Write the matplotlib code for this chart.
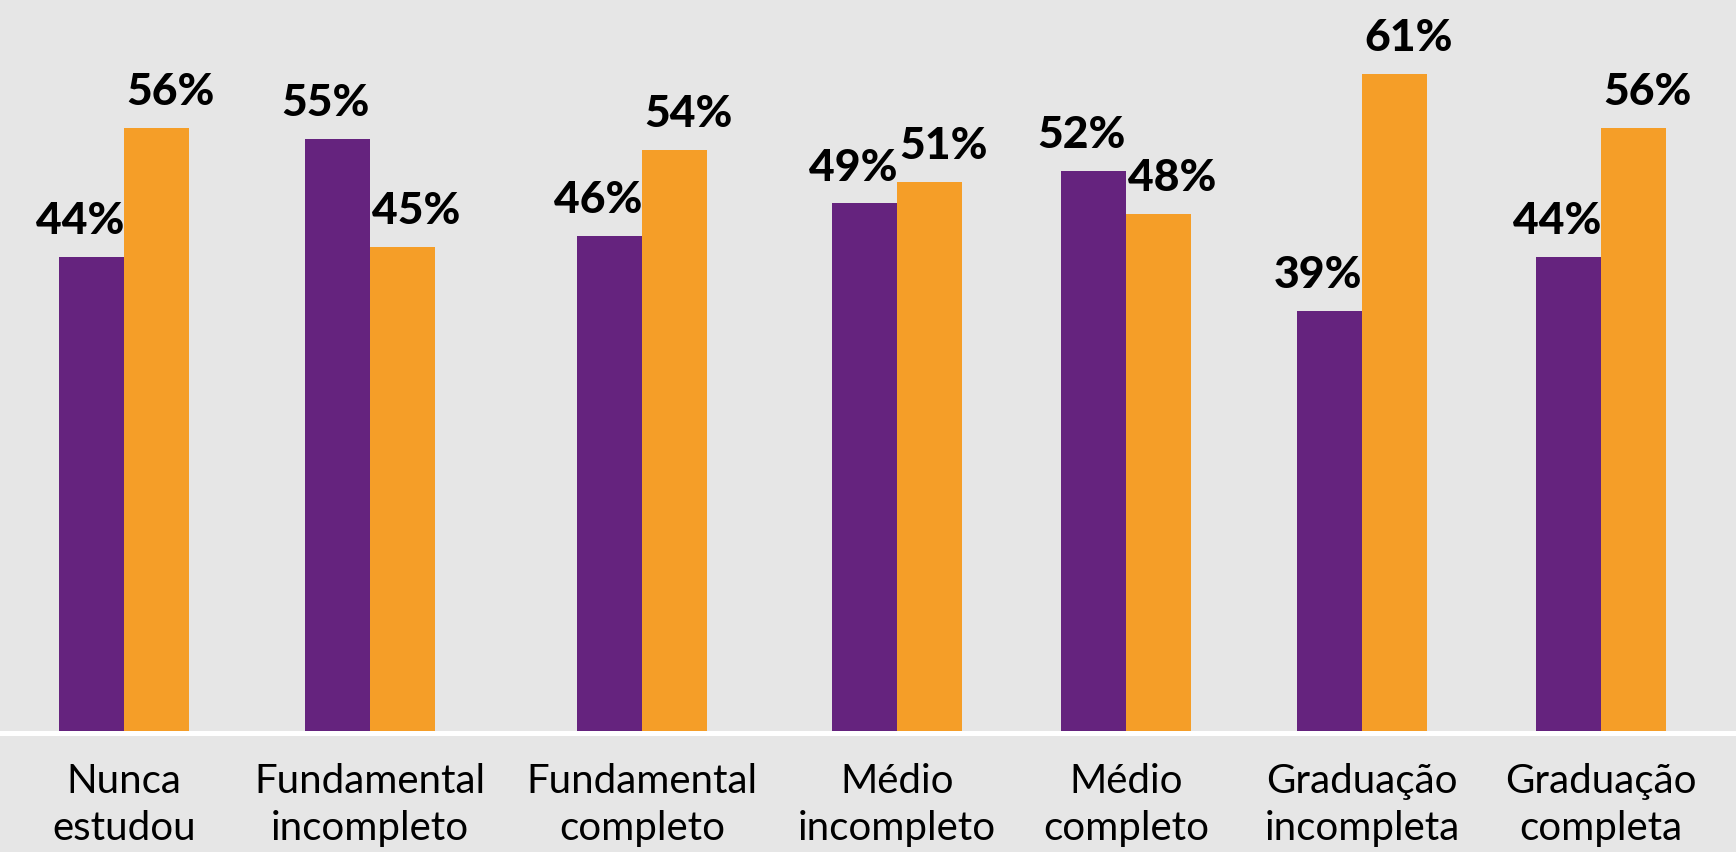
import matplotlib.pyplot as plt

plt.rcParams['font.family'] = ['Lato', 'DejaVu Sans']

# categorias (escolaridade)
categorias = ['Nunca\nestudou', 'Fundamental\nincompleto', 'Fundamental\ncompleto',
              'Médio\nincompleto', 'Médio\ncompleto', 'Graduação\nincompleta',
              'Graduação\ncompleta']
roxo_vals = [44, 55, 46, 49, 52, 39, 44]
laranja_vals = [56, 45, 54, 51, 48, 61, 56]

# posição de cada grupo no eixo x (layout)
xpos = [1.24, 3.70, 6.42, 8.97, 11.26, 13.62, 16.01]

bg = '#e6e6e6'
c_roxo = '#65237e'
c_laranja = '#f59e28'

fig = plt.figure(figsize=(17.36, 8.52), dpi=100, facecolor=bg)
ax = fig.add_axes([0, 0.142, 1, 0.858])
ax.set_facecolor(bg)

w = 0.65
xr = [p - w / 2 for p in xpos]
xl = [p + w / 2 for p in xpos]
ax.bar(xr, roxo_vals, w, color=c_roxo, zorder=3)
ax.bar(xl, laranja_vals, w, color=c_laranja, zorder=3)

# rótulos de valor
for i in range(len(xpos)):
    ax.annotate(f'{roxo_vals[i]}%', (xpos[i], roxo_vals[i]), xytext=(0, 16.5),
                textcoords='offset points', ha='right', va='baseline',
                fontsize=32, fontweight='black', color='black')
    ax.annotate(f'{laranja_vals[i]}%', (xpos[i], laranja_vals[i]), xytext=(1.5, 16.5),
                textcoords='offset points', ha='left', va='baseline',
                fontsize=32, fontweight='black', color='black')

# linha branca da base
ax.axhline(-0.23, color='white', lw=3.6, clip_on=False, zorder=4)

ax.set_xlim(0, 17.36)
ax.set_ylim(0, 67.9)
ax.set_xticks(xpos, categorias)
ax.tick_params(axis='x', length=0, pad=23, labelsize=29)
for t in ax.get_xticklabels():
    t.set_linespacing(1.33)
ax.set_yticks([])
for s in ax.spines.values():
    s.set_visible(False)

fig.savefig('out.png', dpi=100, facecolor=bg)
